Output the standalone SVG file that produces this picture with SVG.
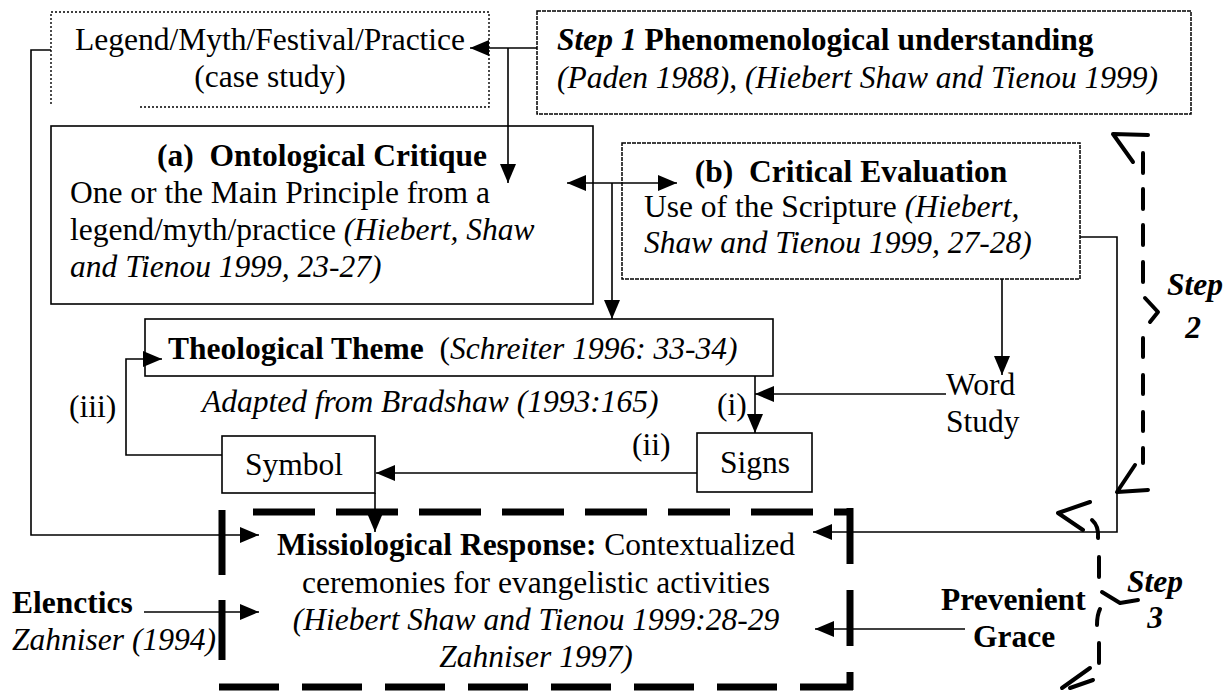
<svg xmlns="http://www.w3.org/2000/svg" width="1229" height="692" viewBox="0 0 1229 692">
<style>
text{font-family:"Liberation Serif","Times New Roman",serif;font-size:31.5px;fill:#000}
.b{font-weight:bold}
.i{font-style:italic}
.bi{font-weight:bold;font-style:italic}
.box{fill:none;stroke:#000;stroke-width:1.6}
.dot{fill:none;stroke:#000;stroke-width:1.4;stroke-dasharray:2 2}
.fine{fill:none;stroke:#000;stroke-width:1.5;stroke-dasharray:4 1}
.ln{fill:none;stroke:#000;stroke-width:1.6}
.arr{marker-end:url(#ah)}
.mb{fill:none;stroke:#000;stroke-width:7}
.st{fill:none;stroke:#000;stroke-width:4;stroke-linecap:round;stroke-linejoin:round}
</style>
<defs>
<marker id="ah" viewBox="0 0 19 16" refX="19" refY="8" markerWidth="19" markerHeight="16" markerUnits="userSpaceOnUse" orient="auto-start-reverse"><path d="M0,0 L19,8 L0,16 z" fill="#000"/></marker>
</defs>
<rect width="1229" height="692" fill="#fff"/>

<g id="legend">
<path class="dot" d="M51,104 L51,12 L489,12 L489,107 L140,107"/>
<text x="270" y="50" text-anchor="middle">Legend/Myth/Festival/Practice</text>
<text x="270" y="87" text-anchor="middle">(case study)</text>
</g>

<g id="step1">
<rect class="fine" x="537" y="11" width="654" height="103"/>
<text x="557" y="50"><tspan class="bi">Step 1</tspan><tspan class="b"> Phenomenological understanding</tspan></text>
<text x="557" y="88" class="i">(Paden 1988), (Hiebert Shaw and Tienou 1999)</text>
</g>

<g id="ontological">
<rect class="box" x="51" y="126" width="542" height="178" stroke-width="2"/>
<text x="322" y="166" text-anchor="middle" class="b" xml:space="preserve">(a)  Ontological Critique</text>
<text x="70" y="203">One or the Main Principle from a</text>
<text x="70" y="240">legend/myth/practice <tspan class="i">(Hiebert, Shaw</tspan></text>
<text x="70" y="277" class="i">and Tienou 1999, 23-27)</text>
</g>

<g id="critical">
<rect class="fine" x="622" y="143" width="458" height="136"/>
<text x="851" y="182" text-anchor="middle" class="b" xml:space="preserve">(b)  Critical Evaluation</text>
<text x="644" y="217">Use of the Scripture <tspan class="i">(Hiebert,</tspan></text>
<text x="644" y="253" class="i">Shaw and Tienou 1999, 27-28)</text>
</g>

<g id="theme">
<rect class="box" x="145" y="319" width="628" height="57"/>
<text x="168" y="359" xml:space="preserve"><tspan class="b">Theological Theme</tspan>  (<tspan class="i">Schreiter 1996: 33-34)</tspan></text>
</g>

<g id="caption">
<text x="202" y="412" class="i">Adapted from Bradshaw (1993:165)</text>
</g>

<g id="labels">
<text x="69" y="417">(iii)</text>
<text x="717" y="415">(i)</text>
<text x="632" y="455">(ii)</text>
</g>

<g id="symbol">
<rect class="box" x="222" y="436" width="153" height="57"/>
<text x="294" y="475" text-anchor="middle">Symbol</text>
</g>

<g id="signs">
<rect class="box" x="697" y="433" width="115" height="59"/>
<text x="755" y="473" text-anchor="middle">Signs</text>
</g>

<g id="wordstudy">
<text x="946" y="395">Word</text>
<text x="946" y="432">Study</text>
</g>

<g id="missiological">
<line class="mb" x1="253" y1="512" x2="853" y2="512" stroke-dasharray="62 21"/>
<line class="mb" x1="850" y1="508" x2="850" y2="690" stroke-dasharray="56 26"/>
<line class="mb" x1="219" y1="687" x2="853" y2="687" stroke-dasharray="60 23"/>
<line class="mb" x1="222" y1="510" x2="222" y2="660" stroke-dasharray="65 25"/>
<text x="536" y="555" text-anchor="middle"><tspan class="b">Missiological Response:</tspan> Contextualized</text>
<text x="536" y="593" text-anchor="middle">ceremonies for evangelistic activities</text>
<text x="536" y="630" text-anchor="middle" class="i">(Hiebert Shaw and Tienou 1999:28-29</text>
<text x="536" y="667" text-anchor="middle" class="i">Zahniser 1997)</text>
</g>

<g id="elenctics">
<text x="12" y="613" class="b">Elenctics</text>
<text x="12" y="650" class="i">Zahniser (1994)</text>
</g>

<g id="prevenient">
<text x="941" y="610" class="b">Prevenient</text>
<text x="973" y="647" class="b">Grace</text>
</g>

<g id="step2">
<path class="st" d="M1143,153 V173 M1143,189 V209 M1143,225 V245 M1143,262 V282 M1143,338 V357 M1143,375 V394 M1143,412 V431 M1143,448 V463"/>
<path class="st" d="M1148,135 L1113,134 L1133,162"/>
<path class="st" d="M1145,298 L1158,312 L1150,322"/>
<path class="st" d="M1135,465 L1117,492 L1148,490"/>
<text x="1167" y="295" class="bi" font-size="30">Step</text>
<text x="1193" y="338" class="bi" text-anchor="middle" font-size="30">2</text>
</g>

<g id="step3">
<path class="st" d="M1090,502 L1058,513 L1083,530"/>
<path class="st" d="M1092,520 Q1099,526 1098,538 M1099,557 V577 M1100,609 Q1097,615 1097,625 M1099,643 V663"/>
<path class="st" d="M1102,592 L1120,603 L1138,600"/>
<path class="st" d="M1090,668 L1062,688 M1093,680 L1070,688"/>
<text x="1127" y="592" class="bi" font-size="30">Step</text>
<text x="1155" y="628" class="bi" text-anchor="middle" font-size="30">3</text>
</g>

<g id="connectors">
<line class="ln arr" x1="537" y1="48" x2="470" y2="48"/>
<line class="ln arr" x1="508" y1="48" x2="508" y2="183"/>
<polyline class="ln arr" points="51,50 31,50 31,535 259,535"/>
<line class="ln" x1="567" y1="183" x2="677" y2="183" marker-start="url(#ah)" marker-end="url(#ah)"/>
<line class="ln arr" x1="612" y1="183" x2="612" y2="319"/>
<polyline class="ln arr" points="1080,237 1117,237 1117,532 813,532"/>
<line class="ln arr" x1="1002" y1="279" x2="1002" y2="375"/>
<line class="ln arr" x1="946" y1="394" x2="755" y2="394"/>
<line class="ln arr" x1="755" y1="376" x2="755" y2="433"/>
<line class="ln arr" x1="697" y1="473" x2="376" y2="473"/>
<polyline class="ln arr" points="222,455 126,455 126,359 162,359"/>
<line class="ln arr" x1="375" y1="493" x2="375" y2="532"/>
<line class="ln arr" x1="144" y1="612" x2="259" y2="612"/>
<line class="ln arr" x1="965" y1="629" x2="815" y2="629"/>
</g>
</svg>
